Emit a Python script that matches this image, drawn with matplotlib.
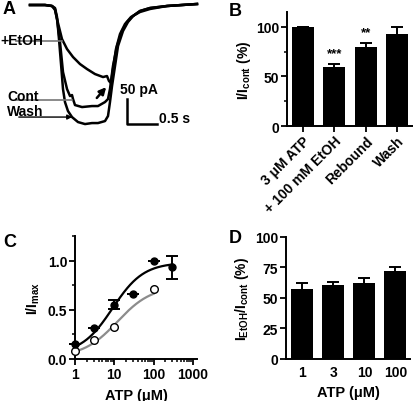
import numpy as np
import matplotlib.pyplot as plt
from matplotlib.ticker import MultipleLocator, LogLocator, NullFormatter

plt.rcParams['font.family'] = ['Liberation Sans', 'DejaVu Sans']
plt.rcParams['font.weight'] = 'bold'
plt.rcParams['axes.labelweight'] = 'bold'
plt.rcParams['mathtext.fontset'] = 'custom'
plt.rcParams['mathtext.rm'] = 'Liberation Sans:bold'
plt.rcParams['mathtext.it'] = 'Liberation Sans:bold'
plt.rcParams['mathtext.bf'] = 'Liberation Sans:bold'
plt.rcParams['mathtext.default'] = 'rm'

# ---- A: current traces (time in s, current in pA)
t_wash = [0, 0.25, 0.367, 0.417, 0.45, 0.483, 0.517, 0.55, 0.583, 0.633, 0.7, 0.8, 0.917, 1.033,
          1.133, 1.25, 1.3, 1.333, 1.367, 1.417, 1.467, 1.55, 1.633, 1.717, 1.833, 2.0, 2.283, 2.783]
i_wash = [0, 0, -2, -6, -24, -68, -118, -168, -194, -212, -224, -234, -238, -236,
          -236, -232, -222, -194, -162, -122, -82, -52, -34, -22, -12, -6, -2, 2]
t_cont = [0, 0.25, 0.367, 0.417, 0.45, 0.5, 0.55, 0.617, 0.667, 0.7, 0.717, 0.75, 0.867, 1.033,
          1.133, 1.25, 1.3, 1.333, 1.383, 1.45, 1.533, 1.617, 1.717, 1.833, 2.0, 2.283, 2.783]
i_cont = [0, 0, -2, -8, -28, -74, -134, -168, -182, -180, -188, -200, -204, -202,
          -202, -194, -188, -168, -122, -82, -52, -34, -22, -12, -6, -2, 2]
t_etoh = [0, 0.25, 0.367, 0.417, 0.45, 0.533, 0.617, 0.717, 0.833, 0.95, 1.083, 1.217, 1.283,
          1.317, 1.35, 1.383, 1.433, 1.5, 1.583, 1.683, 1.833, 2.0, 2.283, 2.783]
i_etoh = [0, 0, -2, -10, -28, -68, -88, -104, -118, -128, -138, -144, -142,
          -152, -156, -128, -88, -58, -38, -24, -14, -8, -2, 2]

# ---- B
b_labels = ['3 \u03bcM ATP', '+ 100 mM EtOH', 'Rebound', 'Wash']
b_vals = [100, 60, 80, 93]
b_err = [0, 2.5, 4, 7]
b_stars = ['', '***', '**', '']

# ---- C
c_x = [1, 3, 10, 30, 100, 300]
c_cont = [0.15, 0.31, 0.55, 0.66, 1.0, 0.93]
c_cont_err = [0, 0, 0.045, 0, 0, 0.12]
c_etoh_x = [1, 3, 10, 100]
c_etoh = [0.08, 0.19, 0.33, 0.71]
# Hill fit parameters (bottom, top, EC50, slope)
fit_cont = (0.05, 0.98, 9.0, 1.1)
fit_etoh = (0.02, 0.74, 12.0, 1.0)

# ---- D
d_labels = ['1', '3', '10', '100']
d_vals = [57.4, 60.5, 62, 72.4]
d_err = [4.5, 3, 4, 3]

fig = plt.figure(figsize=(4.14, 4.02), dpi=100)


def style(ax):
    for s in ['top', 'right']:
        ax.spines[s].set_visible(False)
    for s in ['left', 'bottom']:
        ax.spines[s].set_linewidth(1.4)
    ax.tick_params(which='major', direction='out', length=4, width=1.3, labelsize=10, pad=1.5)
    ax.tick_params(which='minor', direction='out', length=2.5, width=1.1)


# A
axA = fig.add_axes([0, 0.664, 0.5, 0.336])
axA.set_xlim(-0.5, 2.95)
axA.set_ylim(-258, 12)
axA.axis('off')
for t, i in [(t_wash, i_wash), (t_cont, i_cont), (t_etoh, i_etoh)]:
    axA.plot(t, i, color='black', lw=1.8)
axA.text(-0.5, -70, '+EtOH', fontsize=10, va='center', ha='left')
axA.plot([-0.233, 0.53], [-72, -72], color='#777777', lw=1.2)
axA.text(-0.383, -182, 'Cont', fontsize=10, va='center', ha='left')
axA.plot([-0.233, 0.7], [-190, -190], color='#777777', lw=1.2)
axA.text(-0.383, -212, 'Wash', fontsize=10, va='center', ha='left')
axA.annotate('', xy=(0.75, -224), xytext=(-0.233, -224),
             arrowprops=dict(arrowstyle='-|>', color='black', lw=1.0, mutation_scale=7))
axA.annotate('', xy=(1.3, -160), xytext=(1.083, -190),
             arrowprops=dict(arrowstyle='-|>', color='black', lw=1.8, mutation_scale=10))
axA.plot([1.617, 1.617, 2.117], [-188, -238, -238], color='black', lw=1.8)
axA.text(1.5, -168, '50 pA', fontsize=10, va='center', ha='left')
axA.text(2.15, -226, '0.5 s', fontsize=10, va='center', ha='left')
fig.text(3 / 414, 1 - 10 / 402, 'A', fontsize=13, va='center', ha='left')

# B
axB = fig.add_axes([0.6932, 0.684, 0.3043, 0.2836])
style(axB)
xb = np.arange(len(b_vals))
axB.bar(xb, b_vals, width=0.71, color='black')
axB.errorbar(xb, b_vals, yerr=b_err, fmt='none', ecolor='black', elinewidth=1.4,
             capsize=4.3, capthick=1.4)
for x, v, e, s in zip(xb, b_vals, b_err, b_stars):
    if s:
        axB.text(x, v + e + 5, s, ha='center', va='bottom', fontsize=9.5)
axB.set_xlim(-0.51, 3.51)
axB.set_ylim(0, 115)
axB.yaxis.set_major_locator(MultipleLocator(50))
axB.yaxis.set_minor_locator(MultipleLocator(25))
axB.set_xticks(xb)
axB.set_xticklabels(b_labels, rotation=45, ha='right', rotation_mode='anchor', fontsize=10)
axB.set_ylabel('I/I$_{cont}$ (%)', fontsize=10, labelpad=2)
fig.text(229 / 414, 1 - 11 / 402, 'B', fontsize=13, va='center', ha='left')

# C
axC = fig.add_axes([0.1812, 0.1045, 0.2947, 0.306])
style(axC)
axC.set_xscale('log')
axC.set_xlim(1, 1270)
axC.set_ylim(0, 1.25)


def hill(x, p):
    bot, top, ec50, n = p
    return bot + (top - bot) / (1 + (ec50 / x) ** n)


xf1 = np.logspace(0, np.log10(300), 200)
xf2 = np.logspace(0, 2, 200)
axC.plot(xf1, hill(xf1, fit_cont), color='black', lw=1.6, zorder=2)
axC.plot(xf2, hill(xf2, fit_etoh), color='#8c8c8c', lw=1.6, zorder=2)
axC.errorbar(c_x, c_cont, yerr=c_cont_err, fmt='o', color='black', ms=5,
             elinewidth=1.4, capsize=4.3, capthick=1.4, zorder=3, clip_on=False)
axC.plot(c_etoh_x, c_etoh, 'o', mfc='white', mec='black', mew=1.0, ms=5.5, zorder=3, clip_on=False)
axC.xaxis.set_minor_locator(LogLocator(base=10, subs=np.arange(2, 10), numticks=10))
axC.xaxis.set_minor_formatter(NullFormatter())
axC.set_xticks([1, 10, 100, 1000])
axC.set_xticklabels(['1', '10', '100', '1000'])
axC.yaxis.set_minor_locator(MultipleLocator(0.25))
axC.set_yticks([0, 0.5, 1.0])
axC.set_yticklabels(['0.0', '0.5', '1.0'])
axC.set_ylabel('I/I$_{max}$', fontsize=10, labelpad=4)
axC.set_xlabel('ATP (\u03bcM)', fontsize=10.5, labelpad=5)
fig.text(3 / 414, 1 - 243 / 402, 'C', fontsize=13, va='center', ha='left')

# D
axD = fig.add_axes([0.6908, 0.1045, 0.2995, 0.3035])
style(axD)
xd = np.arange(len(d_vals))
axD.bar(xd, d_vals, width=0.71, color='black')
axD.errorbar(xd, d_vals, yerr=d_err, fmt='none', ecolor='black', elinewidth=1.4,
             capsize=4.3, capthick=1.4)
axD.set_xlim(-0.53, 3.47)
axD.set_ylim(0, 100)
axD.yaxis.set_major_locator(MultipleLocator(25))
axD.set_xticks(xd)
axD.set_xticklabels(d_labels)
axD.tick_params(axis='x', length=0, pad=4)
axD.set_ylabel('I$_{EtOH}$/I$_{cont}$ (%)', fontsize=10, labelpad=3)
axD.set_xlabel('ATP (\u03bcM)', fontsize=10.5, labelpad=5)
fig.text(229 / 414, 1 - 239 / 402, 'D', fontsize=13, va='center', ha='left')

fig.savefig('out.png', dpi=100)
